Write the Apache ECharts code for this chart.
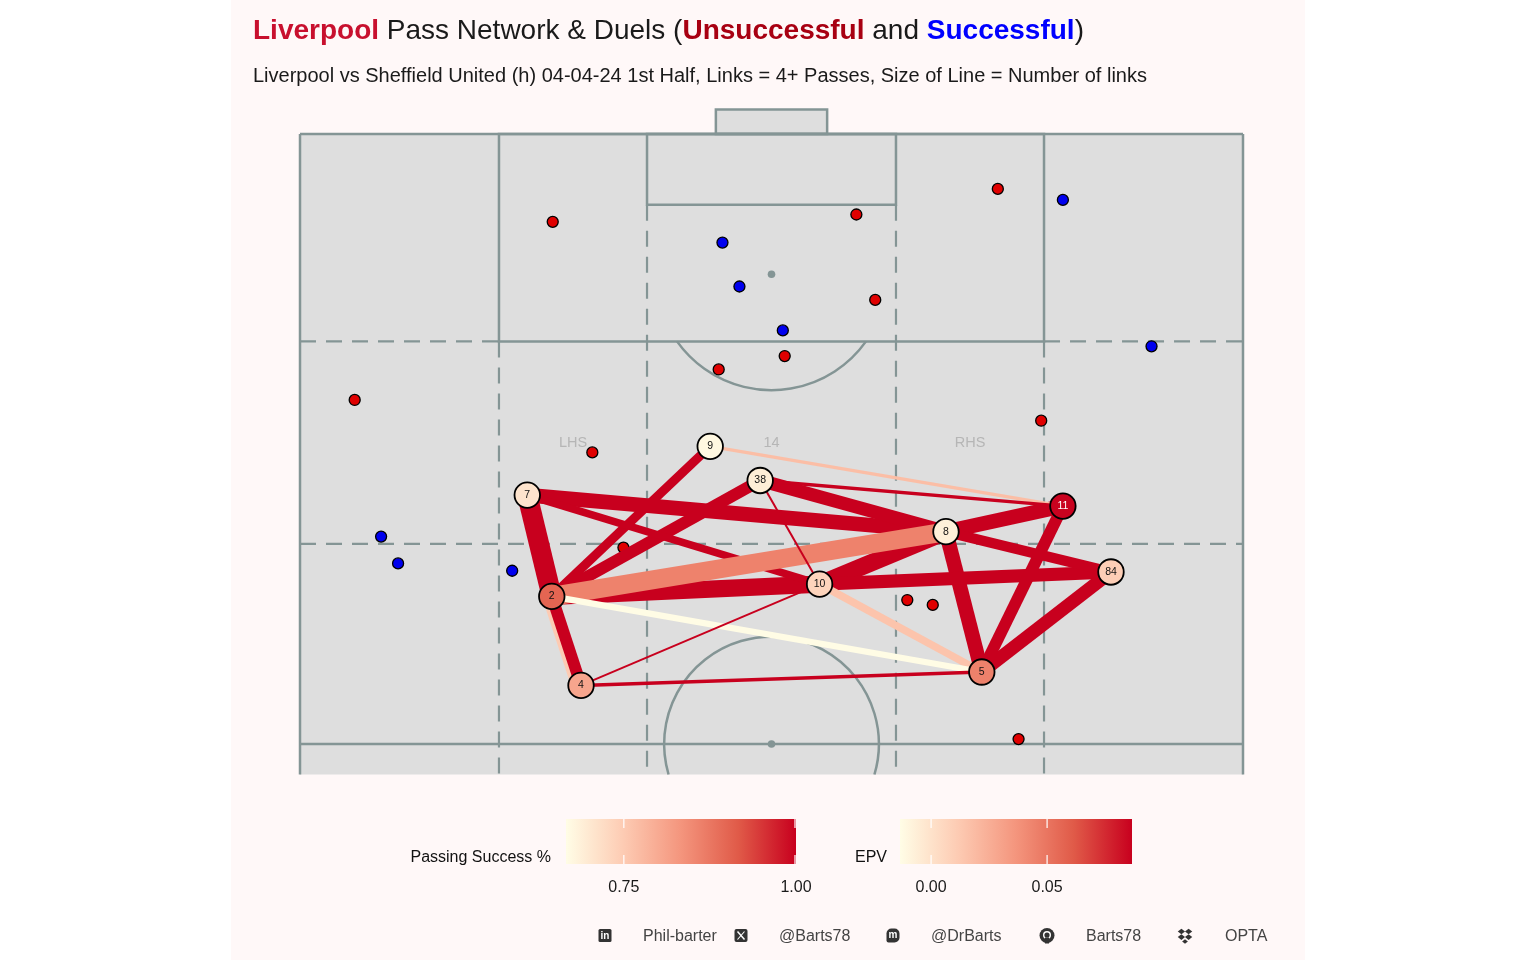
<!DOCTYPE html>
<html><head><meta charset="utf-8">
<script src="https://cdn.jsdelivr.net/npm/echarts@6/dist/echarts.min.js"></script>
<style>html,body{margin:0;padding:0;background:#ffffff;}#c{width:1536px;height:960px;}</style>
</head><body><div id="c"></div>
<script>
// ---------------- DATA ----------------
// Player average positions (Opta pitch units: x = width 0-100, y = length 0-100)
const playerIds  = ['9', '38', '7', '11', '8', '84', '10', '2', '5', '4'];
const playerX    = [43.5, 48.8, 24.1, 80.9, 68.5, 86.0, 55.1, 26.7, 72.3, 29.8];
const playerY    = [74.4, 71.6, 70.4, 69.5, 67.4, 64.1, 63.1, 62.1, 55.9, 54.8];
const playerEPV  = [-0.011, -0.006, -0.001, 0.086, -0.007, 0.010, 0.007, 0.057, 0.045, 0.029];

// Pass links (4+ passes)
const linkFrom    = ['7','2','10','7','8','8','38','10','84','38','11','8','9','7','4','2','2','10','2','9','38','38','4','4'];
const linkTo      = ['2','10','8','8','11','5','8','84','5','2','5','84','2','10','2','4','8','5','5','11','11','10','10','5'];
const linkPasses  = [17, 15, 15, 13, 13, 13, 12, 12, 12, 11, 11, 10, 9, 8, 12, 11, 16, 8, 7, 5, 5, 4, 4, 5];
const linkSuccess = [1.0,1.0,1.0,1.0,1.0,1.0,1.0,1.0,1.0,1.0,1.0,1.0,1.0,1.0,0.75,1.0,0.86,0.76,0.667,0.77,1.0,1.0,1.0,1.0];

// Duels
const duelLostX = [26.8, 59.0, 74.0, 61.0, 51.4, 44.4, 5.8, 78.6, 31.0, 34.3, 64.4, 67.1, 76.2];
const duelLostY = [92.8, 93.4, 95.5, 86.4, 81.8, 80.7, 78.2, 76.5, 73.9, 66.1, 61.8, 61.4, 50.4];
const duelWonX  = [44.8, 80.9, 46.6, 51.2, 90.3, 8.6, 10.4, 22.5];
const duelWonY  = [91.1, 94.6, 87.5, 83.9, 82.6, 67.0, 64.8, 64.2];

// Zone labels
const zoneNames = ['LHS', '14', 'RHS'];
const zoneX = [28.95, 50, 71.05];
const zoneY = [74.67, 74.67, 74.67];

// Colour scale ticks
const passTicks = [0.75, 1.00];
const epvTicks = [0.00, 0.05];
const passRange = [0.666, 1.0];
const epvRange = [-0.0134, 0.0866];

// Footer
const footerTexts = ['Phil-barter', '@Barts78', '@DrBarts', 'Barts78', 'OPTA'];
const footerIcons = ['linkedin', 'x', 'mastodon', 'github', 'dropbox'];

// ---------------- STYLE ----------------
const palette = ['#FFFDE6', '#FDCBB3', '#F4957D', '#E05A48', '#C8001E'];
const pitchFill = '#DEDEDE', pitchLine = '#849595';
const linkOffsetPx = { '4>2': -3 };

function hexToRgb(h){ h=h.replace('#',''); return [parseInt(h.substr(0,2),16),parseInt(h.substr(2,2),16),parseInt(h.substr(4,2),16)]; }
function scaleColor(t){
  t = Math.max(0, Math.min(1, t));
  const n = palette.length - 1;
  const i = Math.min(n - 1, Math.floor(t * n));
  const f = t * n - i;
  const a = hexToRgb(palette[i]), b = hexToRgb(palette[i+1]);
  const c = a.map((v,k)=>Math.round(v + (b[k]-v)*f));
  return 'rgb(' + c.join(',') + ')';
}
const passT = v => (v - passRange[0]) / (passRange[1] - passRange[0]);
const epvT = v => (v - epvRange[0]) / (epvRange[1] - epvRange[0]);
const widthOf = p => 2 + (p - 4) * 1.4;

// Pitch geometry (Opta units)
const pitch = {
  bottom: 47.5, top: 100,
  box: [21.1, 78.9, 83], six: [36.8, 63.2, 94.2], goal: [44.1, 55.9, 102],
  spot: 88.5, thirdLine: 66.4, half: 50, dRadiusL: 9.5, circleRadiusL: 8.8
};

const idx = {}; playerIds.forEach((p,i)=>idx[p]=i);
const linkData = linkFrom.map((f,i)=>{
  const a = idx[f], b = idx[linkTo[i]];
  return [playerX[a], playerY[a], playerX[b], playerY[b], i];
});

function pitchRender(params, api){
  const P = (x,y)=>api.coord([x,y]);
  const ch = [];
  const solid = {stroke: pitchLine, lineWidth: 2.5, fill: null};
  const dash = {stroke: pitchLine, lineWidth: 2.2, lineDash: [16, 10], fill: null};
  const rect = (x1,y1,x2,y2,style)=>{ const a=P(x1,y2), b=P(x2,y1); return {type:'rect', shape:{x:a[0],y:a[1],width:b[0]-a[0],height:b[1]-a[1]}, style}; };
  const line = (x1,y1,x2,y2,style)=>{ const a=P(x1,y1), b=P(x2,y2); return {type:'line', shape:{x1:a[0],y1:a[1],x2:b[0],y2:b[1]}, style}; };
  ch.push(rect(0, pitch.bottom, 100, pitch.top, {fill: pitchFill}));
  ch.push(rect(pitch.goal[0], pitch.top, pitch.goal[1], pitch.goal[2], {fill: pitchFill, stroke: pitchLine, lineWidth: 2.5}));
  ch.push(line(0, pitch.box[2], pitch.box[0], pitch.box[2], dash));
  ch.push(line(pitch.box[1], pitch.box[2], 100, pitch.box[2], dash));
  ch.push(line(0, pitch.thirdLine, 100, pitch.thirdLine, dash));
  ch.push(line(pitch.box[0], pitch.box[2], pitch.box[0], pitch.bottom, dash));
  ch.push(line(pitch.box[1], pitch.box[2], pitch.box[1], pitch.bottom, dash));
  ch.push(line(pitch.six[0], pitch.six[2], pitch.six[0], pitch.bottom, dash));
  ch.push(line(pitch.six[1], pitch.six[2], pitch.six[1], pitch.bottom, dash));
  ch.push(rect(pitch.box[0], pitch.box[2], pitch.box[1], pitch.top, solid));
  ch.push(rect(pitch.six[0], pitch.six[2], pitch.six[1], pitch.top, solid));
  ch.push(line(0, pitch.top, 100, pitch.top, solid));
  ch.push(line(0, pitch.top, 0, pitch.bottom, solid));
  ch.push(line(100, pitch.top, 100, pitch.bottom, solid));
  ch.push(line(0, pitch.half, 100, pitch.half, solid));
  const sp = P(50, pitch.spot);
  const rD = api.size([0, pitch.dRadiusL])[1];
  const boxEdgeY = P(50, pitch.box[2])[1];
  const ang = Math.acos((boxEdgeY - sp[1]) / rD);
  ch.push({type:'arc', shape:{cx:sp[0], cy:sp[1], r:rD, startAngle: Math.PI/2 - ang, endAngle: Math.PI/2 + ang, clockwise:true}, style:{stroke:pitchLine, lineWidth:2.5, fill:null}});
  ch.push({type:'circle', shape:{cx:sp[0], cy:sp[1], r:3.8}, style:{fill:pitchLine}});
  const cc = P(50, pitch.half);
  const rC = api.size([0, pitch.circleRadiusL])[1];
  const bottomY = P(50, pitch.bottom)[1];
  const cut = Math.asin(Math.min(1, (bottomY - cc[1]) / rC));
  ch.push({type:'arc', shape:{cx:cc[0], cy:cc[1], r:rC, startAngle: Math.PI - cut, endAngle: 2*Math.PI + cut, clockwise:true}, style:{stroke:pitchLine, lineWidth:2.5, fill:null}});
  ch.push({type:'circle', shape:{cx:cc[0], cy:cc[1], r:3.8}, style:{fill:pitchLine}});
  return {type:'group', children: ch};
}

function linkRender(params, api){
  const i = api.value(4);
  const a = api.coord([api.value(0), api.value(1)]);
  const b = api.coord([api.value(2), api.value(3)]);
  const key = linkFrom[i] + '>' + linkTo[i];
  let ox = 0, oy = 0;
  if (linkOffsetPx[key]) {
    const dx = b[0]-a[0], dy = b[1]-a[1], L = Math.hypot(dx,dy);
    ox = -dy / L * linkOffsetPx[key]; oy = dx / L * linkOffsetPx[key];
  }
  return {type:'line', shape:{x1:a[0]+ox, y1:a[1]+oy, x2:b[0]+ox, y2:b[1]+oy},
    style:{stroke: scaleColor(passT(linkSuccess[i])), lineWidth: widthOf(linkPasses[i]), lineCap:'butt'}};
}

function barRender(range, ticks){
  return function(params, api){
    const a = api.coord([range[0], 1]), b = api.coord([range[1], 0]);
    const ch = [{type:'rect', shape:{x:a[0], y:a[1], width:b[0]-a[0], height:b[1]-a[1]},
      style:{fill: new echarts.graphic.LinearGradient(0,0,1,0, palette.map((c,k)=>({offset:k/(palette.length-1), color:c})))}}];
    ticks.forEach(t=>{
      const x = api.coord([t, 0])[0] - (t===range[1] ? 1 : 0);
      ch.push({type:'line', shape:{x1:x, y1:a[1], x2:x, y2:a[1]+9}, style:{stroke:'#ffffff', lineWidth:1.2}});
      ch.push({type:'line', shape:{x1:x, y1:b[1]-9, x2:x, y2:b[1]}, style:{stroke:'#ffffff', lineWidth:1.2}});
    });
    return {type:'group', children: ch};
  };
}

const footerIconX = [605, 741, 893, 1047, 1185];
const footerTextX = [643, 779, 931, 1086, 1225];
const footY = 935.5;
const iconColor = '#333333';
function iconGraphic(kind, cx, cy){
  if (kind==='linkedin') return {type:'group', children:[
    {type:'rect', shape:{x:cx-6.5,y:cy-6.5,width:13,height:13,r:1.5}, style:{fill:iconColor}},
    {type:'text', style:{text:'in', x:cx, y:cy+0.5, fill:'#fff', font:'bold 10px "Liberation Sans", Arial', align:'center', verticalAlign:'middle'}}]};
  if (kind==='x') return {type:'group', children:[
    {type:'rect', shape:{x:cx-6.5,y:cy-6.5,width:13,height:13,r:2}, style:{fill:iconColor}},
    {type:'line', shape:{x1:cx-3.5,y1:cy-4,x2:cx+3.5,y2:cy+4}, style:{stroke:'#fff', lineWidth:1.5}},
    {type:'line', shape:{x1:cx+3.5,y1:cy-4,x2:cx-3.5,y2:cy+4}, style:{stroke:'#fff', lineWidth:1.1}}]};
  if (kind==='mastodon') return {type:'group', children:[
    {type:'rect', shape:{x:cx-6.5,y:cy-7,width:13,height:14,r:[5,5,5,2]}, style:{fill:iconColor}},
    {type:'text', style:{text:'m', x:cx, y:cy-0.5, fill:'#fff', font:'bold 10px "Liberation Sans", Arial', align:'center', verticalAlign:'middle'}}]};
  if (kind==='github') return {type:'group', children:[
    {type:'circle', shape:{cx:cx, cy:cy, r:7.5}, style:{fill:iconColor}},
    {type:'circle', shape:{cx:cx, cy:cy-0.5, r:4}, style:{fill:'#fff'}},
    {type:'rect', shape:{x:cx-2, y:cy+2, width:4, height:6}, style:{fill:iconColor}},
    {type:'circle', shape:{cx:cx, cy:cy-0.5, r:2.6}, style:{fill:iconColor}}]};
  const d = (x,y,s)=>({type:'polygon', shape:{points:[[x,y-s],[x+s*1.3,y],[x,y+s],[x-s*1.3,y]]}, style:{fill:iconColor}});
  return {type:'group', children:[d(cx-3.6,cy-4,2.8), d(cx+3.6,cy-4,2.8), d(cx-3.6,cy+1.6,2.8), d(cx+3.6,cy+1.6,2.8), d(cx,cy+6,2.2)]};
}

const graphics = [
  {type:'rect', z:-10, shape:{x:231, y:0, width:1074, height:960}, style:{fill:'#FFF8F8'}},
  {type:'text', style:{text:'Passing Success %', x:551, y:858, align:'right', verticalAlign:'middle', fill:'#111', font:'16px "Liberation Sans", Arial'}},
  {type:'text', style:{text:'EPV', x:887, y:858, align:'right', verticalAlign:'middle', fill:'#111', font:'16px "Liberation Sans", Arial'}}
];
footerIcons.forEach((k,i)=>{
  graphics.push(iconGraphic(k, footerIconX[i], footY));
  graphics.push({type:'text', style:{text:footerTexts[i], x:footerTextX[i], y:footY + 1, verticalAlign:'middle', fill:'#444', font:'16px "Liberation Sans", Arial'}});
});

const FONT = '"Liberation Sans", Arial, sans-serif';
const hiddenAxis = (gi, min, max) => ({gridIndex:gi, min, max, show:false});
const TS = 28;

const option = {
  backgroundColor: '#ffffff',
  animation: false,
  title: [
    {left: 253, top: 17, padding: 0, text: '{r|Liverpool}{n| Pass Network & Duels (}{u|Unsuccessful}{n| and }{s|Successful}{n|)}',
     textStyle: {fontFamily: FONT, fontSize: TS, fontWeight: 'normal', rich: {
       r: {color:'#C8102E', fontWeight:'bold', fontSize:TS, fontFamily: FONT},
       n: {color:'#1a1a1a', fontWeight:'normal', fontSize:TS, fontFamily: FONT},
       u: {color:'#A80012', fontWeight:'bold', fontSize:TS, fontFamily: FONT},
       s: {color:'#0000FF', fontWeight:'bold', fontSize:TS, fontFamily: FONT}}}},
    {left: 253, top: 66, padding: 0, text: 'Liverpool vs Sheffield United (h) 04-04-24 1st Half, Links = 4+ Passes, Size of Line = Number of links',
     textStyle: {fontFamily: FONT, fontSize: 20, fontWeight: 'normal', color:'#1a1a1a'}}
  ],
  grid: [
    {left: 300, right: 293, top: 109.6, bottom: 185.5},
    {left: 566, width: 230, top: 819, height: 45},
    {left: 900, width: 232, top: 819, height: 45}
  ],
  xAxis: [
    hiddenAxis(0, 0, 100),
    {gridIndex:1, min: passRange[0], max: passRange[1], axisLine:{show:false}, axisTick:{show:false}, splitLine:{show:false},
     axisLabel:{customValues: passTicks, formatter: v=>v.toFixed(2), margin: 16, fontSize:16, color:'#1a1a1a', fontFamily: FONT, showMaxLabel:true, showMinLabel:true}},
    {gridIndex:2, min: epvRange[0], max: epvRange[1], axisLine:{show:false}, axisTick:{show:false}, splitLine:{show:false},
     axisLabel:{customValues: epvTicks, formatter: v=>v.toFixed(2), margin: 16, fontSize:16, color:'#1a1a1a', fontFamily: FONT}}
  ],
  yAxis: [hiddenAxis(0, pitch.bottom, 102), hiddenAxis(1, 0, 1), hiddenAxis(2, 0, 1)],
  graphic: graphics,
  series: [
    {type:'custom', xAxisIndex:0, yAxisIndex:0, z:1, silent:true, renderItem: pitchRender, data:[[50,75]]},
    {type:'scatter', xAxisIndex:0, yAxisIndex:0, z:2, symbolSize:0, silent:true,
     data: zoneNames.map((n,i)=>({name:n, value:[zoneX[i], zoneY[i]]})),
     label:{show:true, position:'inside', formatter:'{b}', color:'#ABABAB', fontSize:14.5, fontFamily: FONT}},
    {type:'scatter', name:'Unsuccessful', xAxisIndex:0, yAxisIndex:0, z:3, symbolSize:11,
     data: duelLostX.map((x,i)=>[x, duelLostY[i]]),
     itemStyle:{color:'#E00000', borderColor:'#000', borderWidth:1.3, opacity:1}},
    {type:'scatter', name:'Successful', xAxisIndex:0, yAxisIndex:0, z:3, symbolSize:11,
     data: duelWonX.map((x,i)=>[x, duelWonY[i]]),
     itemStyle:{color:'#0000EE', borderColor:'#000', borderWidth:1.3, opacity:1}},
    {type:'custom', xAxisIndex:0, yAxisIndex:0, z:4, silent:true, renderItem: linkRender, data: linkData},
    {type:'scatter', xAxisIndex:0, yAxisIndex:0, z:5, symbolSize:25.5,
     data: playerIds.map((p,i)=>({name:p, value:[playerX[i], playerY[i]],
       itemStyle:{color: scaleColor(epvT(playerEPV[i]))},
       label:{color: epvT(playerEPV[i]) > 0.85 ? '#ffffff' : '#111111'}})),
     itemStyle:{borderColor:'#000', borderWidth:1.8, opacity:1},
     label:{show:true, position:'inside', formatter:'{b}', fontSize:10.5, fontFamily: FONT}},
    {type:'custom', xAxisIndex:1, yAxisIndex:1, silent:true, renderItem: barRender(passRange, passTicks), data:[[0.8,0.5]]},
    {type:'custom', xAxisIndex:2, yAxisIndex:2, silent:true, renderItem: barRender(epvRange, epvTicks), data:[[0,0.5]]}
  ]
};
const chart = echarts.init(document.getElementById('c'));
chart.setOption(option);
</script></body></html>
